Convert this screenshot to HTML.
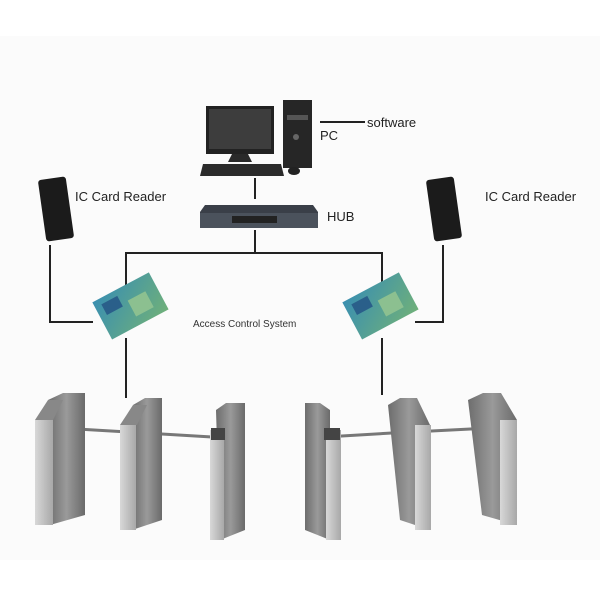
<!DOCTYPE html>
<html><head><style>body{margin:0;background:#fff}svg{display:block}</style></head><body>
<svg width="600" height="600" viewBox="0 0 600 600" xmlns="http://www.w3.org/2000/svg" font-family="Liberation Sans, sans-serif">
<defs>
<linearGradient id="st" x1="0" x2="1"><stop offset="0" stop-color="#6d6d6d"/><stop offset="0.5" stop-color="#9a9a9a"/><stop offset="1" stop-color="#6a6a6a"/></linearGradient>
<linearGradient id="fr" x1="0" x2="1"><stop offset="0" stop-color="#d8d8d8"/><stop offset="1" stop-color="#a8a8a8"/></linearGradient>
<linearGradient id="bd" x1="0" y1="0" x2="1" y2="1"><stop offset="0" stop-color="#3a8fb0"/><stop offset="1" stop-color="#6fb07a"/></linearGradient>
</defs>
<rect width="600" height="600" fill="#fbfbfb"/>
<rect width="600" height="36" fill="#fff"/>
<rect y="560" width="600" height="40" fill="#fff"/>
<g stroke="#222" stroke-width="2" fill="none">
<line x1="320" y1="122" x2="365" y2="122"/>
<line x1="255" y1="178" x2="255" y2="199"/>
<line x1="255" y1="230" x2="255" y2="253"/>
<polyline points="126,290 126,253 382,253 382,290"/>
<polyline points="50,245 50,322 93,322"/>
<polyline points="443,245 443,322 415,322"/>
<line x1="126" y1="338" x2="126" y2="398"/>
<line x1="382" y1="338" x2="382" y2="395"/>
</g>
<!-- PC -->
<rect x="206" y="106" width="68" height="48" fill="#222"/>
<rect x="209" y="109" width="62" height="40" fill="#3d3d3d"/>
<path d="M232 154h16l4 8h-24z" fill="#2a2a2a"/>
<path d="M203 164h78l3 12h-84z" fill="#2b2b2b"/>
<rect x="283" y="100" width="29" height="68" fill="#262626"/>
<rect x="287" y="115" width="21" height="5" fill="#555"/>
<circle cx="296" cy="137" r="3" fill="#666"/>
<ellipse cx="294" cy="171" rx="6" ry="4" fill="#222"/>
<text x="367" y="127" font-size="13" fill="#222">software</text>
<text x="320" y="140" font-size="13" fill="#222">PC</text>
<!-- HUB -->
<path d="M205 205h108l5 7v16h-118v-16z" fill="#3a3f48"/>
<rect x="200" y="213" width="118" height="15" fill="#4b525c"/>
<rect x="232" y="216" width="45" height="7" fill="#222"/>
<text x="327" y="221" font-size="13" fill="#222">HUB</text>
<!-- readers -->
<rect x="42" y="178" width="28" height="62" rx="3" fill="#1b1b1b" transform="rotate(-8 56 209)"/>
<rect x="430" y="178" width="28" height="62" rx="3" fill="#1b1b1b" transform="rotate(-8 444 209)"/>
<text x="75" y="201" font-size="13" fill="#222">IC Card Reader</text>
<text x="485" y="201" font-size="13" fill="#222">IC Card Reader</text>
<!-- boards -->
<g transform="rotate(-28 130 305)"><rect x="98" y="285" width="64" height="42" fill="url(#bd)"/><rect x="105" y="291" width="18" height="12" fill="#2a5f8a"/><rect x="130" y="300" width="20" height="18" fill="#8cc090"/></g>
<g transform="rotate(-28 380 305)"><rect x="348" y="285" width="64" height="42" fill="url(#bd)"/><rect x="355" y="291" width="18" height="12" fill="#2a5f8a"/><rect x="380" y="300" width="20" height="18" fill="#8cc090"/></g>
<text x="193" y="327" font-size="10" fill="#333">Access Control System</text>
<!-- arms -->
<g stroke="#777" stroke-width="3">
<line x1="60" y1="428" x2="128" y2="432"/><line x1="145" y1="433" x2="212" y2="437"/>
<line x1="325" y1="437" x2="392" y2="433"/><line x1="412" y1="432" x2="490" y2="428"/>
</g>
<!-- turnstiles left -->
<g>
<path d="M48 400l15-7h22v122l-35 10z" fill="url(#st)"/><rect x="35" y="420" width="18" height="105" fill="url(#fr)"/><path d="M35 420l13-20h15l-10 20z" fill="#888"/>
<path d="M133 405l12-7h17v122l-30 10z" fill="url(#st)"/><rect x="120" y="425" width="16" height="105" fill="url(#fr)"/><path d="M120 425l13-20h14l-10 20z" fill="#888"/>
<path d="M216 410l10-7h19v127l-25 10z" fill="url(#st)"/><rect x="210" y="430" width="14" height="110" fill="url(#fr)"/><rect x="211" y="428" width="14" height="12" fill="#444"/>
</g>
<g>
<path d="M330 410l-10-7h-15v127l25 10z" fill="url(#st)"/><rect x="326" y="430" width="15" height="110" fill="url(#fr)"/><rect x="324" y="428" width="16" height="12" fill="#444"/>
<path d="M388 405l12-7h17l13 27v105l-30-10z" fill="url(#st)"/><rect x="415" y="425" width="16" height="105" fill="url(#fr)"/>
<path d="M468 400l15-7h18l16 27v105l-35-10z" fill="url(#st)"/><rect x="500" y="420" width="17" height="105" fill="url(#fr)"/>
</g>
</svg>
</body></html>
